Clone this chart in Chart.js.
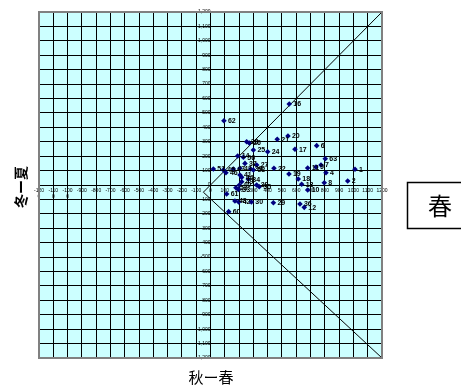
<!DOCTYPE html>
<html>
<head>
<meta charset="utf-8">
<script src="https://cdn.jsdelivr.net/npm/chart.js@4/dist/chart.umd.min.js"></script>
<style>
  body { margin: 0; background: #fff; }
  #wrap { position: relative; width: 461px; height: 387px; }
</style>
</head>
<body>
<div id="wrap"><canvas id="chart" width="461" height="387"></canvas></div>
<script>
// point numbers and their (autumn - spring, winter - summer) values
const pointLabels = ["1", "2", "4", "6", "63", "7", "9", "11", "8", "10", "13", "18", "19", "16", "20", "21", "17", "24", "25", "28", "26",
    "22", "27", "29", "30", "36", "12", "42", "48", "61", "60", "62", "51", "45", "46", "47", "43", "37", "39", "58", "14", "56",
    "41", "44", "34", "49", "40", "53", "33", "38", "35"];
const autumnSpring = [1011, 960, 808, 743, 803, 773, 738, 680, 796, 680, 638, 614, 549, 551, 542, 467, 591, 400, 300, 253, 271,
    444, 323, 440, 286, 626, 656, 197, 171, 113, 127, 94, 20, 90, 108, 160, 206, 241, 281, 300, 190, 230,
    206, 218, 265, 218, 202, 178, 195, 323, 341];
const winterSummer = [109, 28, 85, 273, 182, 139, 125, 118, 16, -35, 5, 42, 76, 562, 340, 317, 248, 231, 243, 300, 291,
    116, 139, -123, -118, -132, -155, -118, -111, -62, -185, 446, 111, 104, 85, 111, 116, 150, 111, 104, 201, 192,
    69, 53, 40, 23, 0, -19, -30, 0, -12];

// guide lines
const upperLineX = [-50, 1200];
const upperLineY = [-50, 1200];
const lowerLineX = [-50, 1200];
const lowerLineY = [-50, -1200];

const axisMin = -1200;
const axisMax = 1200;

const toPoints = (xs, ys) => xs.map((x, i) => ({ x: x, y: ys[i] }));

const tickFont = { family: "Arial, 'Liberation Sans'", size: 5 };
const cjkFont = "'Noto Sans CJK JP', 'Noto Sans CJK SC', sans-serif";

// background, frame, labels, titles and the side box
const decorPlugin = {
    id: "decor",
    beforeDraw(chart) {
        const { ctx, chartArea: a } = chart;
        ctx.save();
        ctx.fillStyle = "#CCFFFF";
        ctx.fillRect(a.left, a.top, a.right - a.left, a.bottom - a.top);
        ctx.restore();
    },
    afterDatasetsDraw(chart) {
        const ctx = chart.ctx;
        const meta = chart.getDatasetMeta(0);
        ctx.save();
        ctx.font = "bold 7px Arial, 'Liberation Sans'";
        ctx.fillStyle = "#000";
        ctx.textBaseline = "middle";
        meta.data.forEach((pt, i) => {
            ctx.fillText(pointLabels[i], pt.x + 4, pt.y + 0.5);
        });
        ctx.restore();
    },
    afterDraw(chart) {
        const { ctx, chartArea: a } = chart;
        ctx.save();
        ctx.strokeStyle = "#808080";
        ctx.lineWidth = 2;
        ctx.strokeRect(a.left, a.top, a.right - a.left, a.bottom - a.top);

        ctx.fillStyle = "#000";
        ctx.textAlign = "center";
        ctx.textBaseline = "middle";
        ctx.font = "15px " + cjkFont;
        ctx.fillText("秋ー春", 211, 377);

        ctx.save();
        ctx.translate(21, 187);
        ctx.rotate(-Math.PI / 2);
        ctx.font = "bold 14px " + cjkFont;
        ctx.fillText("冬ー夏", 0, 0);
        ctx.restore();

        ctx.strokeStyle = "#000";
        ctx.lineWidth = 1.5;
        ctx.strokeRect(407.5, 182.5, 60, 46);
        ctx.font = "24px " + cjkFont;
        ctx.fillText("春", 440, 206);
        ctx.restore();
    }
};

new Chart(document.getElementById("chart"), {
    type: "scatter",
    data: {
        datasets: [
            {
                data: toPoints(autumnSpring, winterSummer),
                pointStyle: "rectRot",
                pointRadius: 2.8,
                pointBackgroundColor: "#000080",
                pointBorderColor: "#000080",
                pointBorderWidth: 0,
                order: 0
            },
            {
                data: toPoints(upperLineX, upperLineY),
                showLine: true,
                borderColor: "#000",
                borderWidth: 1,
                pointRadius: 0,
                order: 1
            },
            {
                data: toPoints(lowerLineX, lowerLineY),
                showLine: true,
                borderColor: "#000",
                borderWidth: 1,
                pointRadius: 0,
                order: 1
            }
        ]
    },
    options: {
        responsive: false,
        animation: false,
        layout: { padding: { left: 39, top: 12, right: 79, bottom: 29 } },
        plugins: {
            legend: { display: false },
            tooltip: { enabled: false }
        },
        scales: {
            x: {
                type: "linear",
                min: axisMin,
                max: axisMax,
                position: { y: 0 },
                grid: { color: "#000", lineWidth: 1, tickLength: 3 },
                border: { color: "#000", width: 1 },
                ticks: {
                    stepSize: 100,
                    autoSkip: false,
                    maxRotation: 0,
                    padding: 0,
                    color: "#000",
                    font: tickFont,
                    callback: (v) => (v <= -1000 ? [String(v).slice(0, 4), String(v).slice(4)] : String(v))
                }
            },
            y: {
                type: "linear",
                min: axisMin,
                max: axisMax,
                position: { x: 0 },
                grid: { color: "#000", lineWidth: 1, tickLength: 3 },
                border: { color: "#000", width: 1 },
                ticks: {
                    stepSize: 100,
                    autoSkip: false,
                    padding: 1,
                    color: "#000",
                    font: tickFont
                }
            }
        }
    },
    plugins: [decorPlugin]
});
</script>
</body>
</html>
